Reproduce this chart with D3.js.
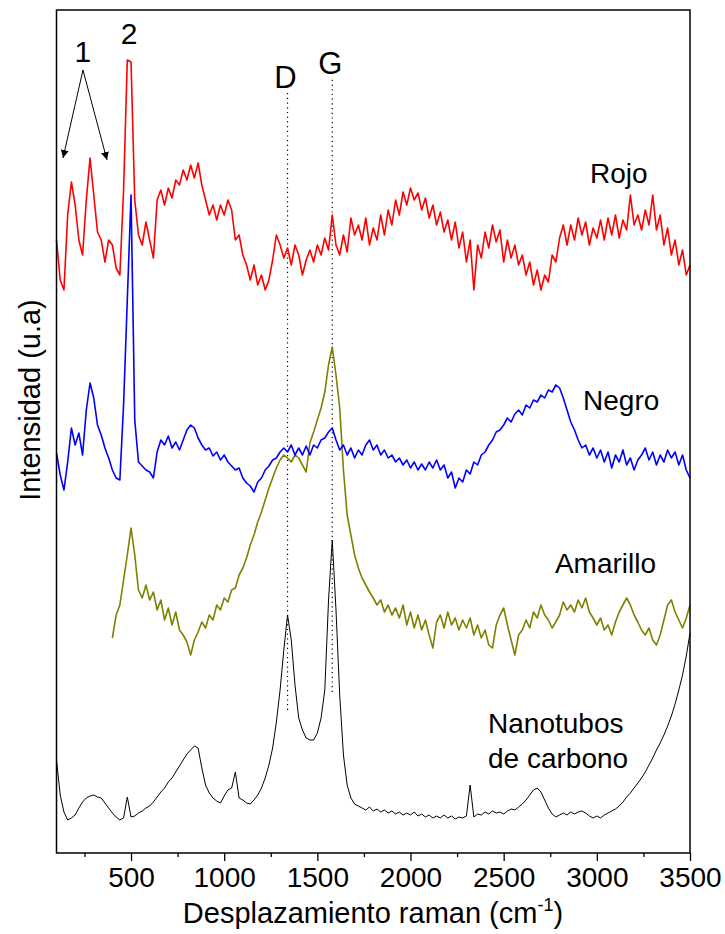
<!DOCTYPE html>
<html>
<head>
<meta charset="utf-8">
<script src="https://cdn.jsdelivr.net/npm/d3@7"></script>
<style>
  body { margin: 0; background: #fff; }
  text { font-family: "Liberation Sans", Arial, sans-serif; }
</style>
</head>
<body>
<script>
// Raman shift grid (cm-1), step 20
const waveNums = d3.range(100, 3501, 20)
const waveNumsAmarillo = d3.range(400, 3501, 20)

// intensities (u.a.), offset curves
const rojo = [
  613,573,563,638,671,648,613,598,653,695,
  658,621,613,591,613,608,585,578,663,793,
  791,653,618,608,631,613,595,653,663,648,
  665,655,673,668,683,673,688,675,690,668,
  653,638,648,633,648,638,653,643,613,618,
  598,588,573,588,568,578,563,573,593,618,
  608,595,605,588,608,598,578,593,603,591,
  608,598,615,603,638,608,598,618,601,635,
  618,628,613,635,608,625,613,638,618,643,
  628,653,638,661,648,665,653,660,643,655,
  635,648,628,641,621,633,613,631,605,621,
  591,613,563,608,595,621,605,628,611,623,
  591,613,595,608,588,598,578,591,568,583,
  563,578,571,598,591,615,628,608,628,613,
  635,618,631,608,625,615,633,613,635,618,
  638,615,633,623,658,628,638,623,643,628,
  658,623,638,608,625,598,613,588,603,578,
  588
]
const negro = [
  400,378,363,391,425,408,420,398,443,470,
  455,428,418,405,395,383,375,373,448,553,
  658,433,391,387,383,381,375,401,413,408,
  417,405,411,403,413,423,428,425,415,408,
  403,405,397,401,393,398,391,387,383,385,
  375,370,367,361,371,375,383,387,393,395,
  401,405,401,408,398,405,398,407,398,408,
  405,413,415,421,425,413,403,408,398,405,
  395,403,398,408,413,403,408,398,403,395,
  398,391,395,388,393,385,391,383,389,383,
  391,385,393,383,388,375,381,365,375,371,
  383,379,391,388,398,401,408,413,421,423,
  428,435,431,439,443,438,448,445,453,451,
  458,455,463,461,468,465,455,443,431,423,
  413,405,408,398,405,395,403,391,401,385,
  398,391,403,388,395,383,393,398,405,393,
  401,388,398,391,403,395,401,388,398,383,
  375
]
const amarillo = [
  215,238,248,273,298,325,298,263,255,268,
  253,261,243,253,233,245,228,241,223,218,
  211,198,213,221,231,225,238,233,248,243,
  255,251,263,265,278,285,295,308,318,331,
  341,353,365,375,385,393,398,395,391,398,
  395,388,381,410,421,433,445,461,488,506,
  478,445,383,338,318,298,285,275,268,261,
  255,248,253,241,248,238,245,235,248,228,
  241,225,238,223,233,218,205,231,238,225,
  241,228,235,223,233,225,235,218,228,215,
  223,208,205,228,238,245,228,213,198,218,
  223,233,225,241,235,248,238,233,225,231,
  238,251,243,248,241,253,245,255,241,235,
  228,235,223,228,218,231,241,248,255,248,
  238,231,223,218,225,213,208,218,233,248,
  253,241,233,225,235,
  248
]
const nanotubos = [
  93,58,41,33,35,38,45,51,55,57,
  58,56,55,50,45,40,36,33,35,56,
  36,37,40,42,45,47,51,56,61,65,
  71,75,81,87,93,99,103,107,105,85,
  68,60,55,52,50,57,63,65,81,55,
  53,50,49,53,58,65,75,88,105,131,
  163,203,238,213,168,135,123,115,113,113,
  120,135,163,253,313,243,158,98,68,55,
  49,47,45,43,46,42,44,41,43,40,
  42,39,41,38,40,38,41,37,39,36,
  38,35,37,35,38,35,37,34,36,35,
  37,68,36,39,38,41,39,42,40,41,
  39,42,44,43,46,49,53,58,63,65,
  61,53,45,39,36,38,40,38,41,39,
  41,42,40,37,35,37,35,38,40,42,
  44,47,51,56,60,65,70,75,81,88,
  95,103,110,118,127,137,149,163,178,197,
  220
]

const xMajorTicks = [500, 1000, 1500, 2000, 2500, 3000, 3500]
const xMinorTicks = [250, 750, 1250, 1750, 2250, 2750, 3250]

// D and G band markers
const peakNames = ["D", "G"]
const peakPos = [1340, 1580]
const peakBottom = [143, 161]
const peakTop = [761, 775]

// curve labels
const curveNames = ["Rojo", "Negro", "Amarillo", "Nanotubos", "de carbono"]
const curveLabelX = [2963, 2926, 2775, 2416, 2416]
const curveLabelY = [670, 443, 280, 120, 85]

const W = 725, H = 934
const x = d3.scaleLinear().domain([100, 3500]).range([56.5, 690])
const y = d3.scaleLinear().domain([0, 843]).range([853, 10])

const svg = d3.select('body')
    .append('svg')
    .attr('width', W)
    .attr('height', H)

const line = d3.line()
    .x(d => x(d[0]))
    .y(d => y(d[1]))

const series = [
    { name: 'nanotubos', xs: waveNums, ys: nanotubos, color: '#000000', w: 1 },
    { name: 'amarillo', xs: waveNumsAmarillo, ys: amarillo, color: '#808000', w: 1.6 },
    { name: 'negro', xs: waveNums, ys: negro, color: '#0000ff', w: 1.6 },
    { name: 'rojo', xs: waveNums, ys: rojo, color: '#ff0000', w: 1.6 }
]

// dotted D / G lines
svg.selectAll('line.peak')
    .data(peakPos)
    .join('line')
    .attr('class', 'peak')
    .attr('x1', d => x(d))
    .attr('x2', d => x(d))
    .attr('y1', (d, i) => y(peakBottom[i]))
    .attr('y2', (d, i) => y(peakTop[i]))
    .attr('stroke', '#000')
    .attr('stroke-width', 1.2)
    .attr('stroke-dasharray', '1.2,3.5')

svg.selectAll('path.curve')
    .data(series)
    .join('path')
    .attr('class', 'curve')
    .attr('fill', 'none')
    .attr('stroke', d => d.color)
    .attr('stroke-width', d => d.w)
    .attr('stroke-linejoin', 'round')
    .attr('d', d => line(d.xs.map((v, i) => [v, d.ys[i]])))

svg.selectAll('text.peak')
    .data(peakNames)
    .join('text')
    .attr('class', 'peak')
    .attr('x', (d, i) => x(peakPos[i]) - 2)
    .attr('y', (d, i) => y(peakTop[i]) - 4)
    .attr('text-anchor', 'middle')
    .attr('font-size', 31)
    .text(d => d)

// curve names
svg.selectAll('text.curve')
    .data(curveNames)
    .join('text')
    .attr('class', 'curve')
    .attr('x', (d, i) => x(curveLabelX[i]))
    .attr('y', (d, i) => y(curveLabelY[i]))
    .attr('font-size', 28)
    .text(d => d)

// markers "1" (with two arrows) and "2"
svg.append('defs').append('marker')
    .attr('id', 'arr')
    .attr('viewBox', '0 0 10 10')
    .attr('refX', 10).attr('refY', 5)
    .attr('markerWidth', 8).attr('markerHeight', 8)
    .attr('markerUnits', 'userSpaceOnUse')
    .attr('orient', 'auto')
    .append('path')
    .attr('d', 'M0,0 L10,5 L0,10 z')
    .attr('fill', '#000')

const arrowTips = [[135, 695], [371, 693]]
svg.selectAll('line.arrow')
    .data(arrowTips)
    .join('line')
    .attr('class', 'arrow')
    .attr('x1', x(242)).attr('y1', y(783))
    .attr('x2', d => x(d[0])).attr('y2', d => y(d[1]))
    .attr('stroke', '#000')
    .attr('stroke-width', 1)
    .attr('marker-end', 'url(#arr)')

svg.append('text')
    .attr('x', x(242)).attr('y', y(791))
    .attr('text-anchor', 'middle')
    .attr('font-size', 30)
    .text('1')
svg.append('text')
    .attr('x', x(489)).attr('y', y(809))
    .attr('text-anchor', 'middle')
    .attr('font-size', 30)
    .text('2')

// x axis
const axis = svg.append('g')
    .attr('transform', `translate(0,${y(0)})`)
    .call(d3.axisBottom(x).tickValues(xMajorTicks).tickSize(8).tickPadding(6).tickFormat(d3.format('d')))
axis.select('.domain').remove()
axis.selectAll('line').attr('stroke-width', 1.3)
axis.selectAll('text').attr('font-size', 28).attr('font-family', '"Liberation Sans", Arial, sans-serif').attr('fill', '#000')

const minor = svg.append('g')
    .attr('transform', `translate(0,${y(0)})`)
    .call(d3.axisBottom(x).tickValues(xMinorTicks).tickSize(4).tickFormat(''))
minor.select('.domain').remove()
minor.selectAll('line').attr('stroke-width', 1.3)

// frame
svg.append('rect')
    .attr('x', x(100)).attr('y', y(843))
    .attr('width', x(3500) - x(100))
    .attr('height', y(0) - y(843))
    .attr('fill', 'none')
    .attr('stroke', '#000')
    .attr('stroke-width', 1.5)

// axis titles
const xt = svg.append('text')
    .attr('x', 373).attr('y', 923)
    .attr('text-anchor', 'middle')
    .attr('font-size', 29)
xt.append('tspan').text('Desplazamiento raman (cm')
xt.append('tspan').attr('font-size', 18).attr('dy', -12).text('-1')
xt.append('tspan').attr('dy', 12).text(')')

svg.append('text')
    .attr('transform', 'translate(40,400) rotate(-90)')
    .attr('text-anchor', 'middle')
    .attr('font-size', 29)
    .text('Intensidad (u.a)')
</script>
</body>
</html>
